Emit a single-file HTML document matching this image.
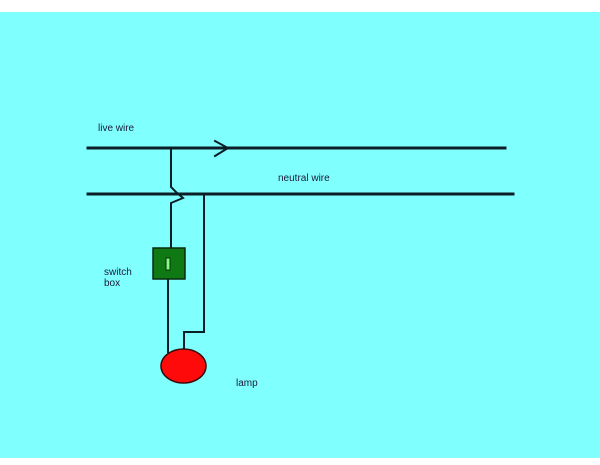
<!DOCTYPE html>
<html><head><style>
html,body{margin:0;padding:0;background:#fff;}
svg{display:block}
text{font-family:"Liberation Sans",sans-serif;font-size:10px;fill:#1a1a3a}
</style></head><body>
<svg width="600" height="465" viewBox="0 0 600 465">
<rect x="0" y="12" width="600" height="446" fill="#80ffff"/>
<g stroke="#0d1f26" fill="none" stroke-linecap="square">
<line x1="88" y1="148" x2="505" y2="148" stroke-width="3"/>
<line x1="88" y1="194" x2="513" y2="194" stroke-width="3"/>
<polyline points="215,141 228,148 215,156" stroke-width="2"/>
<polyline points="171,148 171,187 176,192 183,198 171,203 171,248" stroke-width="2"/>
<line x1="168" y1="279" x2="168" y2="352" stroke-width="2"/>
<polyline points="204,194 204,332 184,332 184,350" stroke-width="2"/>
</g>
<rect x="153" y="248" width="32" height="31" fill="#0f7a14" stroke="#0d2a10" stroke-width="1.5"/>
<rect x="166" y="258" width="4" height="12" fill="#7fff7f" stroke="#0d2a10" stroke-width="1"/>
<ellipse cx="183.5" cy="366" rx="22.5" ry="17" fill="#ff0a0a" stroke="#3a0a0a" stroke-width="1.5"/>
<text x="98" y="131">live wire</text>
<text x="278" y="181">neutral wire</text>
<text x="104" y="275">switch</text>
<text x="104" y="286">box</text>
<text x="236" y="386">lamp</text>
</svg>
</body></html>
